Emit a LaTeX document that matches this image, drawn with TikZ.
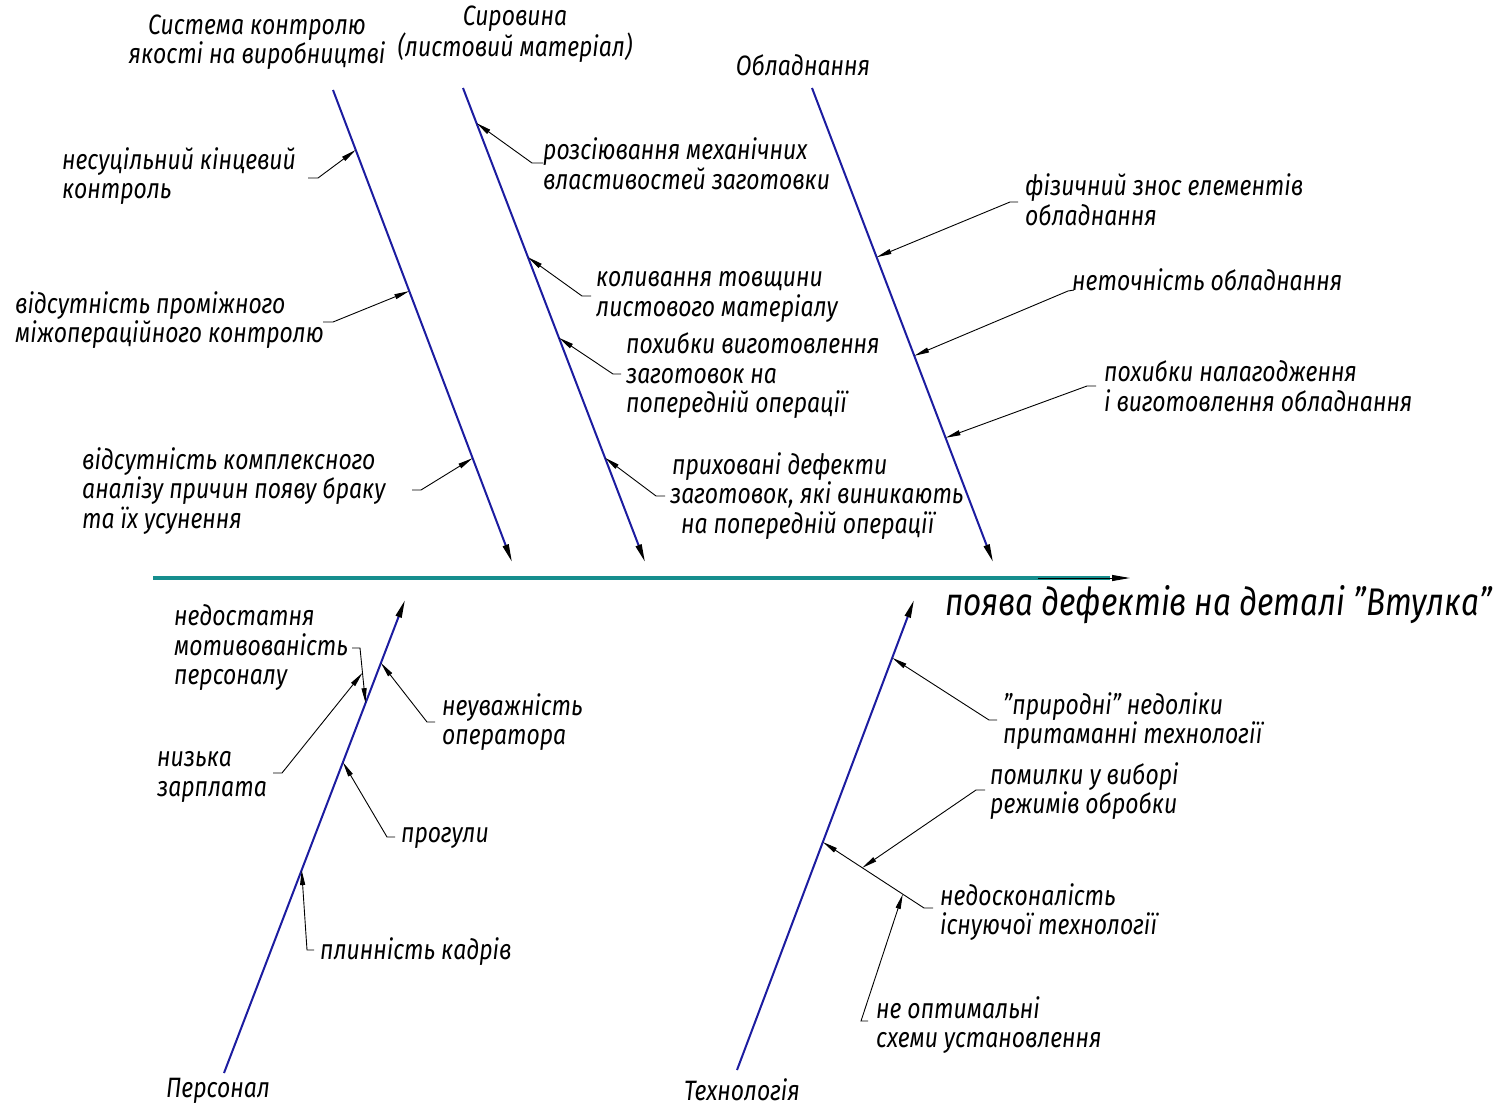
\documentclass[tikz,border=0pt]{standalone}
\usepackage{fontspec}
\setmainfont{Fira Sans}[FakeStretch=0.82]
\usetikzlibrary{arrows.meta,calc}
\definecolor{boneblue}{RGB}{28,28,160}
\definecolor{spineteal}{RGB}{22,142,142}
\tikzset{
  bone/.style={draw=boneblue, line width=2pt, -{Triangle[length=18pt,width=6pt,color=black]}},
  lead/.style={draw=black, line width=0.9pt, -{Triangle[length=15pt,width=5pt]}},
  txt/.style={font=\itshape\fontsize{28}{29.5}\selectfont, inner sep=0pt},
  lbl/.style={txt, anchor=west, align=left},
  ttl/.style={txt, align=center},
}
\begin{document}
\begin{tikzpicture}[x=1pt,y=-1pt]
\useasboundingbox (0,0) rectangle (1509,1108);
% spine
\coordinate (S0) at (153,578);
\coordinate (S1) at (1110,578);
\coordinate (S2) at (1038,578);
\coordinate (S3) at (1130,578);
\draw[spineteal, line width=4pt] (S0) -- (S1);
\draw[line width=1pt, -{Triangle[length=18pt,width=6pt]}] (S2) -- (S3);
\node[lbl, font=\itshape\fontsize{38.5}{42}\selectfont] (eff) at (945,605) {поява дефектів на деталі "Втулка"};
% bones
\coordinate (B1s) at (333,90);  \coordinate (B1e) at (512,562);
\coordinate (B2s) at (463,88);  \coordinate (B2e) at (645,562);
\coordinate (B3s) at (812,88);  \coordinate (B3e) at (993,562);
\coordinate (B4s) at (224,1073); \coordinate (B4e) at (405,600);
\coordinate (B5s) at (737,1070); \coordinate (B5e) at (914,600);
\draw[bone] (B1s) -- (B1e);
\draw[bone] (B2s) -- (B2e);
\draw[bone] (B3s) -- (B3e);
\draw[bone] (B4s) -- (B4e);
\draw[bone] (B5s) -- (B5e);
% bone titles
\node[ttl] (c1) at (257,42) {Система контролю\\якості на виробництві};
\node[ttl] (c2) at (515,34) {Сировина\\(листовий матеріал)};
\node[ttl] (c3) at (803,65) {Обладнання};
\node[ttl] (c4) at (218,1091) {Персонал};
\node[ttl] (c5) at (742,1090) {Технологія};
% cause labels
\node[lbl] (t1) at (62,176) {несуцільний кінцевий\\контроль};
\node[lbl] (t2) at (15,320) {відсутність проміжного\\міжопераційного контролю};
\node[lbl] (t3) at (82,491) {відсутність комплексного\\аналізу причин появу браку\\та їх усунення};
\node[lbl] (t4) at (543,164) {розсіювання механічних\\властивостей заготовки};
\node[lbl] (t5) at (596,297) {коливання товщини\\листового матеріалу};
\node[lbl] (t6) at (626,376) {похибки виготовлення\\заготовок на\\попередній операції};
\node[lbl] (t7) at (670,496) {\hspace*{2pt}приховані дефекти\\заготовок, які виникають\\\hspace*{11pt}на попередній операції};
\node[lbl] (t8) at (1025,200) {фізичний знос елементів\\обладнання};
\node[lbl] (t9) at (1072,280) {неточність обладнання};
\node[lbl] (t10) at (1104,386) {похибки налагодження\\і виготовлення обладнання};
\node[lbl] (t11) at (174,648) {недостатня\\мотивованість\\персоналу};
\node[lbl] (t12) at (157,777) {низька\\зарплата};
\node[lbl] (t13) at (442,722) {неуважність\\оператора};
\node[lbl] (t14) at (401,838) {прогули};
\node[lbl] (t15) at (320,952) {плинність кадрів};
\node[lbl] (t16) at (1003,721) {"природні" недоліки\\притаманні технології};
\node[lbl] (t17) at (990,791) {помилки у виборі\\режимів обробки};
\node[lbl] (t18) at (940,912) {недосконалість\\існуючої технології};
\node[lbl] (t19) at (876,1025) {не оптимальні\\схеми установлення};
% tips on bones
\coordinate (p1) at ($(B1s)!0.127!(B1e)$);
\coordinate (p2) at ($(B1s)!0.426!(B1e)$);
\coordinate (p3) at ($(B1s)!0.78!(B1e)$);
\coordinate (p4) at ($(B2s)!0.074!(B2e)$);
\coordinate (p5) at ($(B2s)!0.357!(B2e)$);
\coordinate (p6) at ($(B2s)!0.527!(B2e)$);
\coordinate (p7) at ($(B2s)!0.78!(B2e)$);
\coordinate (p8) at ($(B3s)!0.357!(B3e)$);
\coordinate (p9) at ($(B3s)!0.565!(B3e)$);
\coordinate (p10) at ($(B3s)!0.738!(B3e)$);
\coordinate (p11) at ($(B4s)!0.782!(B4e)$);
\coordinate (p13) at ($(B4s)!0.867!(B4e)$);
\coordinate (p14) at ($(B4s)!0.657!(B4e)$);
\coordinate (p15) at ($(B4s)!0.429!(B4e)$);
\coordinate (p16) at ($(B5s)!0.877!(B5e)$);
\coordinate (p18) at ($(B5s)!0.485!(B5e)$);
% stubs
\coordinate (a1) at (308,178);  \coordinate (b1) at (318,178);
\coordinate (a2) at (323,322);  \coordinate (b2) at (333,322);
\coordinate (a3) at (412,490);  \coordinate (b3) at (421,490);
\coordinate (a4) at (543,163);  \coordinate (b4) at (532,163);
\coordinate (a5) at (591,296);  \coordinate (b5) at (582,296);
\coordinate (a6) at (621,374);  \coordinate (b6) at (613,374);
\coordinate (a7) at (665,496);  \coordinate (b7) at (656,496);
\coordinate (a8) at (1018,202); \coordinate (b8) at (1010,202);
\coordinate (a9) at (1074,290); \coordinate (b9) at (1068,291);
\coordinate (a10) at (1096,386); \coordinate (b10) at (1087,386);
\coordinate (a11) at (352,648); \coordinate (b11) at (360,648);
\coordinate (a12) at (273,773); \coordinate (b12) at (282,773);
\coordinate (a13) at (435,722); \coordinate (b13) at (427,722);
\coordinate (a14) at (395,837); \coordinate (b14) at (387,837);
\coordinate (a15) at (314,950); \coordinate (b15) at (307,950);
\coordinate (a16) at (997,720); \coordinate (b16) at (989,720);
\coordinate (a17) at (985,790); \coordinate (b17) at (976,790);
\coordinate (a18) at (933,908); \coordinate (b18) at (924,908);
\coordinate (a19) at (868,1021); \coordinate (b19) at (861,1021);
% tips on other leaders
\coordinate (p12) at ($(b11)!0.45!(p11)$);
\coordinate (p17) at ($(b18)!0.61!(p18)$);
\coordinate (p19) at ($(b18)!0.21!(p18)$);
% leaders
\foreach \i in {1,...,19}{
  \draw[lead] (a\i) -- (b\i) -- (p\i);
}
\end{tikzpicture}
\end{document}
